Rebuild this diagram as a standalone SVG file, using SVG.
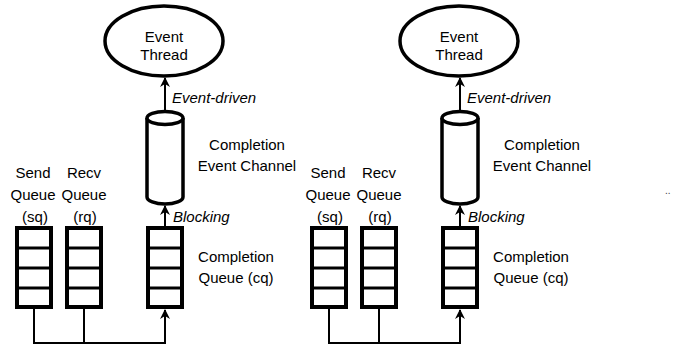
<svg xmlns="http://www.w3.org/2000/svg" width="674" height="347" viewBox="0 0 674 347">
  <style>
    text { font-family: "Liberation Sans", Arial, sans-serif; font-size: 15px; fill: #000; }
    .mid { text-anchor: middle; }
    .it { font-style: italic; }
    .thick { fill: #fff; stroke: #000; stroke-width: 3.5; }
    .box { fill: #fff; stroke: #000; stroke-width: 4; }
    .div { stroke: #000; stroke-width: 3; }
    .wire { fill: none; stroke: #000; stroke-width: 2; }
  </style>
  <defs>
    <marker id="arrow" viewBox="0 0 10 10" refX="9" refY="5" markerWidth="5" markerHeight="5" orient="auto" markerUnits="strokeWidth">
      <path d="M0,0 L10,5 L0,10 L3,5 z" fill="#000"/>
    </marker>
    <!-- a four-slot queue drawn at the origin -->
    <g id="queue">
      <rect class="box" x="0" y="0" width="34" height="79"/>
      <line class="div" x1="0" y1="20" x2="34" y2="20"/>
      <line class="div" x1="0" y1="40" x2="34" y2="40"/>
      <line class="div" x1="0" y1="60" x2="34" y2="60"/>
    </g>
  </defs>

  <!-- ===== left set ===== -->
  <g id="thread-1">
    <ellipse class="thick" cx="164" cy="41" rx="59" ry="35"/>
    <text class="mid" x="164" y="42">Event</text>
    <text class="mid" x="164" y="60">Thread</text>
  </g>
  <g id="channel-1">
    <path class="thick" d="M147,118 V197 A18,7 0 0 0 183,197 V118"/>
    <ellipse class="thick" cx="165" cy="118" rx="18" ry="6.5"/>
    <text class="mid" x="247" y="150">Completion</text>
    <text class="mid" x="247" y="171">Event Channel</text>
  </g>
  <g id="sq-1">
    <use href="#queue" x="17" y="228"/>
    <text class="mid" x="33" y="178">Send</text>
    <text class="mid" x="33" y="200">Queue</text>
    <text class="mid" x="35" y="222">(sq)</text>
  </g>
  <g id="rq-1">
    <use href="#queue" x="67" y="228"/>
    <text class="mid" x="84" y="178">Recv</text>
    <text class="mid" x="84" y="200">Queue</text>
    <text class="mid" x="85" y="222">(rq)</text>
  </g>
  <g id="cq-1">
    <use href="#queue" x="148" y="228"/>
    <text class="mid" x="236" y="262">Completion</text>
    <text class="mid" x="236" y="283">Queue (cq)</text>
  </g>

  <!-- ===== right set ===== -->
  <g id="thread-2">
    <ellipse class="thick" cx="459" cy="41" rx="59" ry="35"/>
    <text class="mid" x="459" y="42">Event</text>
    <text class="mid" x="459" y="60">Thread</text>
  </g>
  <g id="channel-2">
    <path class="thick" d="M442,118 V197 A18,7 0 0 0 478,197 V118"/>
    <ellipse class="thick" cx="460" cy="118" rx="18" ry="6.5"/>
    <text class="mid" x="542" y="150">Completion</text>
    <text class="mid" x="542" y="171">Event Channel</text>
  </g>
  <g id="sq-2">
    <use href="#queue" x="312" y="228"/>
    <text class="mid" x="328" y="178">Send</text>
    <text class="mid" x="328" y="200">Queue</text>
    <text class="mid" x="330" y="222">(sq)</text>
  </g>
  <g id="rq-2">
    <use href="#queue" x="362" y="228"/>
    <text class="mid" x="379" y="178">Recv</text>
    <text class="mid" x="379" y="200">Queue</text>
    <text class="mid" x="380" y="222">(rq)</text>
  </g>
  <g id="cq-2">
    <use href="#queue" x="443" y="228"/>
    <text class="mid" x="531" y="262">Completion</text>
    <text class="mid" x="531" y="283">Queue (cq)</text>
  </g>

  <!-- ===== connectors ===== -->
  <g id="connectors">
    <line class="wire" x1="165" y1="111" x2="165" y2="78" marker-end="url(#arrow)"/>
    <text class="it" x="172" y="103">Event-driven</text>
    <line class="wire" x1="165" y1="226" x2="165" y2="206" marker-end="url(#arrow)"/>
    <text class="it" x="173" y="222">Blocking</text>
    <polyline class="wire" points="34,309 34,343 165,343 165,310" marker-end="url(#arrow)"/>
    <line class="wire" x1="84" y1="309" x2="84" y2="343"/>

    <line class="wire" x1="460" y1="111" x2="460" y2="78" marker-end="url(#arrow)"/>
    <text class="it" x="467" y="103">Event-driven</text>
    <line class="wire" x1="460" y1="226" x2="460" y2="206" marker-end="url(#arrow)"/>
    <text class="it" x="468" y="222">Blocking</text>
    <polyline class="wire" points="329,309 329,343 460,343 460,310" marker-end="url(#arrow)"/>
    <line class="wire" x1="379" y1="309" x2="379" y2="343"/>
  </g>

  <text x="665" y="194" style="font-size:10px; fill:#444">..</text>
</svg>
